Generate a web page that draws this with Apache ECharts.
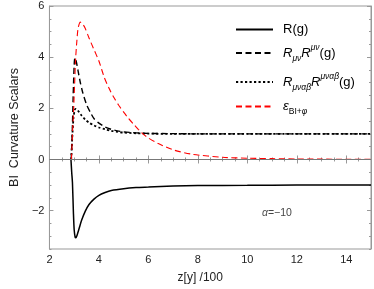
<!DOCTYPE html>
<html><head><meta charset="utf-8">
<script src="https://cdn.jsdelivr.net/npm/echarts@6/dist/echarts.min.js"></script>
<style>html,body{margin:0;padding:0;background:#fff}#c{width:374px;height:289px}</style>
</head><body><div id="c"></div>
<script>
// Data
const xR   = [2.87,2.9,2.93,2.97,3.0,3.04,3.07,3.12,3.2,3.3,3.45,3.6,3.8,4.0,4.25,4.5,5.0,5.5,6.0,7.0,8.0,10.0,12.0,15.0];
const yR   = [0,-0.5,-0.9,-2.1,-2.75,-3.04,-3.06,-2.95,-2.7,-2.38,-2.02,-1.76,-1.55,-1.4,-1.29,-1.21,-1.14,-1.1,-1.08,-1.04,-1.02,-1.01,-1.0,-1.0];
const xRic = [2.88,2.92,2.96,3.0,3.03,3.08,3.15,3.25,3.35,3.5,3.65,3.8,4.0,4.25,4.5,4.75,5.0,5.5,6.0,7.0,8.0,10.0,12.0,15.0];
const yRic = [0,1.0,2.5,3.7,3.98,3.85,3.5,3.0,2.6,2.15,1.85,1.6,1.42,1.27,1.18,1.12,1.08,1.04,1.02,1.01,1.0,1.0,1.0,1.0];
const xKre = [2.88,2.92,2.97,3.02,3.06,3.12,3.2,3.3,3.45,3.6,3.8,4.0,4.25,4.5,4.75,5.0,5.5,6.0,7.0,8.0,10.0,12.0,15.0];
const yKre = [0,0.8,1.6,1.93,1.98,1.95,1.85,1.72,1.56,1.44,1.33,1.25,1.18,1.12,1.08,1.05,1.025,1.01,1.0,1.0,1.0,1.0,1.0];
const xEps = [2.89,2.93,2.97,3.02,3.06,3.11,3.16,3.25,3.34,3.44,3.6,3.83,4.0,4.22,4.4,4.6,4.8,5.0,5.2,5.4,5.6,5.7,5.8,6.0,6.4,7.06,7.8,9.0,10.0,11.0,12.0,13.0,14.0,15.0];
const yEps = [0,1.0,1.78,3.0,3.97,4.65,5.14,5.37,5.3,5.14,4.75,4.23,3.85,3.2,2.8,2.43,2.12,1.85,1.6,1.38,1.17,1.07,0.98,0.84,0.62,0.36,0.2,0.085,0.05,0.032,0.02,0.013,0.008,0.005];
const xTicks = [2,4,6,8,10,12,14];
const yTicks = [-2,0,2,4,6];
const names = ['R','Ric','Kre','Eps'];

const zip = (a,b)=>a.map((v,i)=>[v,b[i]]);
const frame = '#999';
const legendText = {
  R: '{n|R(g)}',
  Ric: '{it|R}{sub|μν}{it|R}{sup|μν}{n|(g)}',
  Kre: '{it|R}{sub|μναβ}{it|R}{sup|μναβ}{n|(g)}',
  Eps: '{it|ε}{subn|BI+}{sub|φ}'
};
const F = 'Liberation Sans';
const rich = {
  n:{fontSize:13,color:'#000',fontFamily:F,lineHeight:20,verticalAlign:'middle'},
  it:{fontSize:13,color:'#000',fontStyle:'italic',fontFamily:F,lineHeight:20,verticalAlign:'middle'},
  sub:{fontSize:8.5,color:'#000',fontStyle:'italic',fontFamily:F,lineHeight:10,verticalAlign:'bottom'},
  subn:{fontSize:8.5,color:'#000',fontFamily:F,lineHeight:10,verticalAlign:'bottom'},
  sup:{fontSize:8.5,color:'#000',fontStyle:'italic',fontFamily:F,lineHeight:10,verticalAlign:'top'}
};
const legendTops = [23,43,72,100];
const legends = names.map((nm,i)=>({
  data:[nm], orient:'vertical', left:235, top:legendTops[i], padding:0,
  itemWidth:37, itemHeight:14, selectedMode:false,
  itemStyle:{opacity:0},
  formatter: n=>legendText[n],
  textStyle:{rich:rich, padding:[0,0,0,5]}
}));

const tickLabel = {color:'#222',fontSize:11,fontFamily:F};
const option = {
  animation:false,
  grid:{left:36,right:2,top:6,bottom:37,show:true,borderColor:frame,borderWidth:1},
  legend: legends,
  xAxis:[
    {type:'value',min:2,max:15,interval:2,position:'bottom',
     name:'z[y] /100',nameLocation:'middle',nameGap:23,
     nameTextStyle:{color:'#222',fontSize:12,fontFamily:F,padding:[0,20,0,0]},
     axisLine:{show:true,lineStyle:{color:frame}},
     axisTick:{show:true,inside:true,length:4,lineStyle:{color:frame}},
     minorTick:{show:true,splitNumber:4,length:2,lineStyle:{color:frame}},
     axisLabel:Object.assign({margin:5,formatter:v=>xTicks.includes(v)?String(v):''},tickLabel),
     splitLine:{show:false}},
    {type:'value',min:2,max:15,interval:2,position:'top',
     axisLine:{show:true,lineStyle:{color:frame}},
     axisTick:{show:true,inside:true,length:4,lineStyle:{color:frame}},
     minorTick:{show:true,splitNumber:4,length:2,lineStyle:{color:frame}},
     axisLabel:{show:false},splitLine:{show:false}}
  ],
  yAxis:[
    {type:'value',min:-3.5,max:6,position:'left',offset:0,
     name:'BI  Curvature Scalars',nameLocation:'middle',nameGap:24,
     nameTextStyle:{color:'#222',fontSize:12.5,fontFamily:F},
     axisLine:{show:true,lineStyle:{color:frame}},
     axisTick:{show:true,inside:true,length:4,customValues:yTicks,lineStyle:{color:frame}},
     axisLabel:Object.assign({margin:5,customValues:yTicks,formatter:v=>v<0?'\u2212'+Math.abs(v):String(v)},tickLabel),
     splitLine:{show:false}},
    {type:'value',min:-3.5,max:6,interval:0.5,position:'left',offset:0,
     axisLine:{show:false},
     axisTick:{show:true,inside:true,length:2,lineStyle:{color:frame}},
     axisLabel:{show:false},splitLine:{show:false}},
    {type:'value',min:-3.5,max:6,position:'right',offset:0,
     axisLine:{show:true,lineStyle:{color:frame}},
     axisTick:{show:true,inside:true,length:4,customValues:yTicks,lineStyle:{color:frame}},
     axisLabel:{show:false},splitLine:{show:false}},
    {type:'value',min:-3.5,max:6,interval:0.5,position:'right',offset:0,
     axisLine:{show:false},
     axisTick:{show:true,inside:true,length:2,lineStyle:{color:frame}},
     axisLabel:{show:false},splitLine:{show:false}}
  ],
  series:[
    {name:'R',type:'line',data:zip(xR,yR),symbol:'none',smooth:0.25,
     lineStyle:{color:'#000',width:1.5,type:'solid'},itemStyle:{color:'#000'},
     markLine:{silent:true,symbol:'none',label:{show:false},
       lineStyle:{color:'#777',width:1,type:'solid'},data:[{yAxis:0}]}},
    {name:'Ric',type:'line',data:zip(xRic,yRic),symbol:'none',smooth:0.25,
     lineStyle:{color:'#000',width:1.4,type:[6,3.5]},itemStyle:{color:'#000'}},
    {name:'Kre',type:'line',data:zip(xKre,yKre),symbol:'none',smooth:0.25,
     lineStyle:{color:'#000',width:1.8,type:[2.2,2.3]},itemStyle:{color:'#000'}},
    {name:'Eps',type:'line',data:zip(xEps,yEps),symbol:'none',smooth:0.25,
     lineStyle:{color:'#f00',width:1.1,type:[6,3.5]},itemStyle:{color:'#f00'}}
  ],
  graphic:[
    {type:'text',left:262,top:208,
     style:{text:'{a|α}{b|=−10}',rich:{a:{fontSize:10.5,fontStyle:'italic',fill:'#555',fontFamily:F},b:{fontSize:10.5,fill:'#444',fontFamily:F}}}}
  ]
};
echarts.init(document.getElementById('c')).setOption(option);
</script></body></html>
